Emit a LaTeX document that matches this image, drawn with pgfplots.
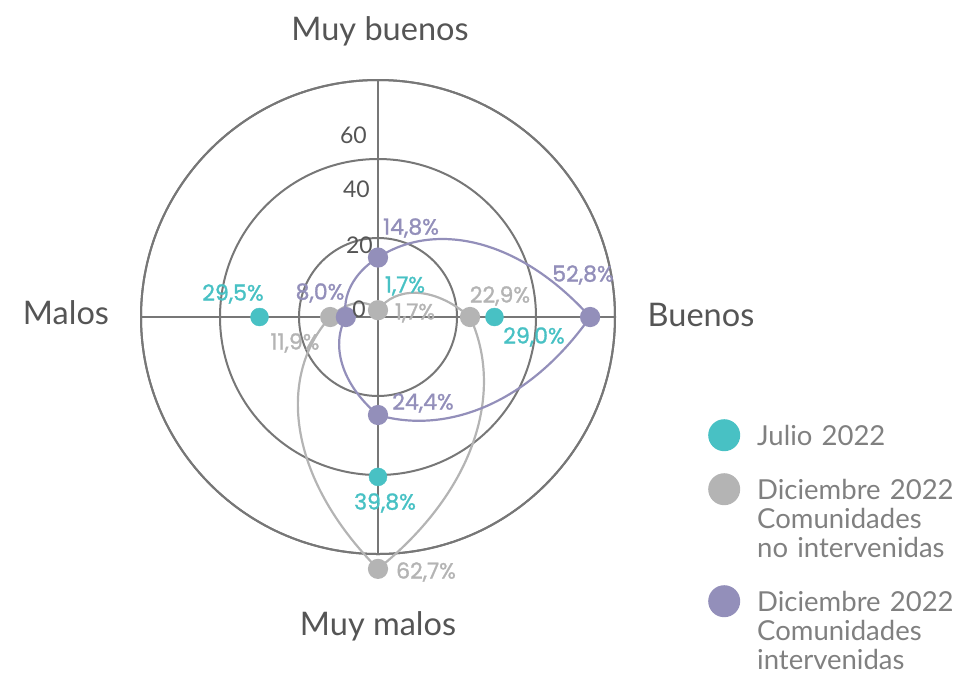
\documentclass[border=0pt]{standalone}
\usepackage{fontspec}
\setmainfont{Lato}
\newfontfamily\popm{Poppins}[Numbers=Monospaced, FakeBold=1.3]
\usepackage{pgfplots}
\pgfplotsset{compat=1.18}
\usepgfplotslibrary{polar}
\definecolor{cteal}{HTML}{48C1C4}
\definecolor{cgray}{HTML}{B4B4B4}
\definecolor{cpurp}{HTML}{938FBA}
\definecolor{cgrid}{HTML}{777777}
\definecolor{clab}{HTML}{555555}
\definecolor{cleg}{HTML}{808080}
% plot handler: joins consecutive points by curves that are straight in (angle, radius),
% as the reference's polar chart does, and closes the curve.
\makeatletter
\def\pgfplothandlerpolarlin{%
  \def\pgf@plotstreamstart{%
    \pgfplotspointaxisxy{0}{0}%
    \xdef\pl@ox{\pgf@sys@tonumber\pgf@x}%
    \xdef\pl@oy{\pgf@sys@tonumber\pgf@y}%
    \global\let\pgf@plotstreampoint=\pl@first
    \global\let\pgf@plotstreamspecial=\pgfutil@gobble
    \global\let\pgf@plotstreamend=\pl@end
  }%
}
\def\pl@polar{%
  \pgf@xa=\pgf@x \advance\pgf@xa by -\pl@ox pt\relax
  \pgf@ya=\pgf@y \advance\pgf@ya by -\pl@oy pt\relax
  \edef\pl@dx{\pgf@sys@tonumber\pgf@xa}%
  \edef\pl@dy{\pgf@sys@tonumber\pgf@ya}%
  \pgfmathatantwo{\pl@dy}{\pl@dx}\xdef\pl@ang{\pgfmathresult}%
  \pgfmathveclen{\pl@dx}{\pl@dy}\xdef\pl@rad{\pgfmathresult}%
}
\def\pl@first#1{%
  \pgf@process{#1}%
  \pl@polar
  \xdef\pl@fa{\pl@ang}\xdef\pl@fr{\pl@rad}%
  \xdef\pl@la{\pl@ang}\xdef\pl@lr{\pl@rad}%
  \pgf@plot@first@action{#1}%
  \global\let\pgf@plotstreampoint=\pl@next
}
\def\pl@next#1{%
  \pgf@process{#1}%
  \pl@polar
  \pl@segment{\pl@la}{\pl@lr}{\pl@ang}{\pl@rad}%
  \xdef\pl@la{\pl@ang}\xdef\pl@lr{\pl@rad}%
}
\def\pl@end{%
  \pl@segment{\pl@la}{\pl@lr}{\pl@fa}{\pl@fr}%
  \pgfpathclose
}
\def\pl@segment#1#2#3#4{%
  \pgfmathsetmacro\pl@da{(#3)-(#1)}%
  \pgfmathsetmacro\pl@da{(\pl@da)>180 ? (\pl@da)-360 : ((\pl@da)<-180 ? (\pl@da)+360 : (\pl@da))}%
  \pgfmathsetmacro\pl@dr{(#4)-(#2)}%
  \pgfmathsetmacro\pl@aa{(#1)+(\pl@da)/3}%
  \pgfmathsetmacro\pl@ra{(#2)+(\pl@dr)/3}%
  \pgfmathsetmacro\pl@ab{(#1)+2*(\pl@da)/3}%
  \pgfmathsetmacro\pl@rb{(#2)+2*(\pl@dr)/3}%
  \pgfmathsetmacro\pl@ae{(#1)+(\pl@da)}%
  \pgfpathcurveto
    {\pgfpointadd{\pgfqpoint{\pl@ox pt}{\pl@oy pt}}{\pgfpointpolar{\pl@aa}{\pl@ra pt}}}%
    {\pgfpointadd{\pgfqpoint{\pl@ox pt}{\pl@oy pt}}{\pgfpointpolar{\pl@ab}{\pl@rb pt}}}%
    {\pgfpointadd{\pgfqpoint{\pl@ox pt}{\pl@oy pt}}{\pgfpointpolar{\pl@ae}{#4 pt}}}%
}
\tikzset{polar lin/.code={\let\tikz@plot@handler=\pgfplothandlerpolarlin}}
\makeatother
\begin{document}
\begin{tikzpicture}[x=1pt,y=1pt]
\path[use as bounding box] (0,0) rectangle (957,-675);
\begin{polaraxis}[
  at={(378pt,-317pt)}, anchor=center,
  scale only axis, width=474pt, height=474pt,
  ymin=0, ymax=59,
  xtick={0,90,180,270}, ytick={19.667,39.333,59},
  xticklabels={}, yticklabels={},
  major tick length=0pt,
  grid=major,
  grid style={cgrid, line width=2pt},
  axis line style={cgrid, line width=2pt},
  clip=false,
  legend style={at={(1.1962,0.2848)}, anchor=north west, draw=none, fill=none,
    inner sep=0pt, row sep=22pt, column sep=17pt,
    font=\fontsize{27.5}{29}\selectfont,
    cells={anchor=base west},
    nodes={text width=200pt, align=left, inner sep=0pt, text=cleg, text depth=, text height=}},
  legend image code/.code={\fill[#1,draw=none] (16pt,10pt) circle (16pt);},
]
\addplot[only marks, mark=*, mark size=9pt, color=cteal, mark options={draw=none, fill=cteal}]
  coordinates {(90,1.7) (0,29.0) (270,39.8) (180,29.5)};
\addlegendentry{Julio 2022}
\addplot[polar lin, color=cgray, line width=2.2pt, mark=*, mark size=9pt, mark options={draw=none, fill=cgray}]
  coordinates {(90,1.7) (0,22.9) (270,62.7) (180,11.9)};
\addlegendentry{Diciembre 2022\\Comunidades\\no intervenidas\rule[-6pt]{0pt}{1pt}}
\addplot[polar lin, color=cpurp, line width=2.2pt, mark=*, mark size=9pt, mark options={draw=none, fill=cpurp}]
  coordinates {(90,14.8) (0,52.8) (270,24.4) (180,8.0)};
\addlegendentry{Diciembre 2022\\Comunidades\\intervenidas}
\end{polaraxis}
% axis category labels
\begin{scope}[every node/.style={text=clab, font=\fontsize{32.5}{36}\selectfont}]
\node at (380,-31) {Muy buenos};
\node at (701,-315) {Buenos};
\node at (378,-626) {Muy malos};
\node at (66,-313) {Malos};
\end{scope}
% radial tick labels
\begin{scope}[every node/.style={text=clab, font=\fontsize{23}{26}\selectfont, anchor=east, inner sep=0pt}]
\node at (367,-135) {60};
\node at (370,-189) {40};
\node at (373,-245) {20};
\node at (366,-309) {0};
\end{scope}
% data labels
\begin{scope}[every node/.style={font=\popm\fontsize{22}{25}\selectfont, inner sep=0pt}]
\node[text=cpurp] at (411,-228) {14,8\%};
\node[text=cpurp] at (583,-275) {52,8\%};
\node[text=cpurp] at (423,-403) {24,4\%};
\node[text=cpurp] at (320,-293) {8,0\%};
\node[text=cteal] at (405,-286) {1,7\%};
\node[text=cteal] at (534,-337) {29,0\%};
\node[text=cteal] at (385,-503) {39,8\%};
\node[text=cteal] at (233,-294) {29,5\%};
\node[text=cgray] at (415,-313) {1,7\%};
\node[text=cgray] at (500,-296) {22,9\%};
\node[text=cgray] at (426,-572) {62,7\%};
\node[text=cgray] at (295,-343) {11,9\%};
\end{scope}
\end{tikzpicture}
\end{document}
